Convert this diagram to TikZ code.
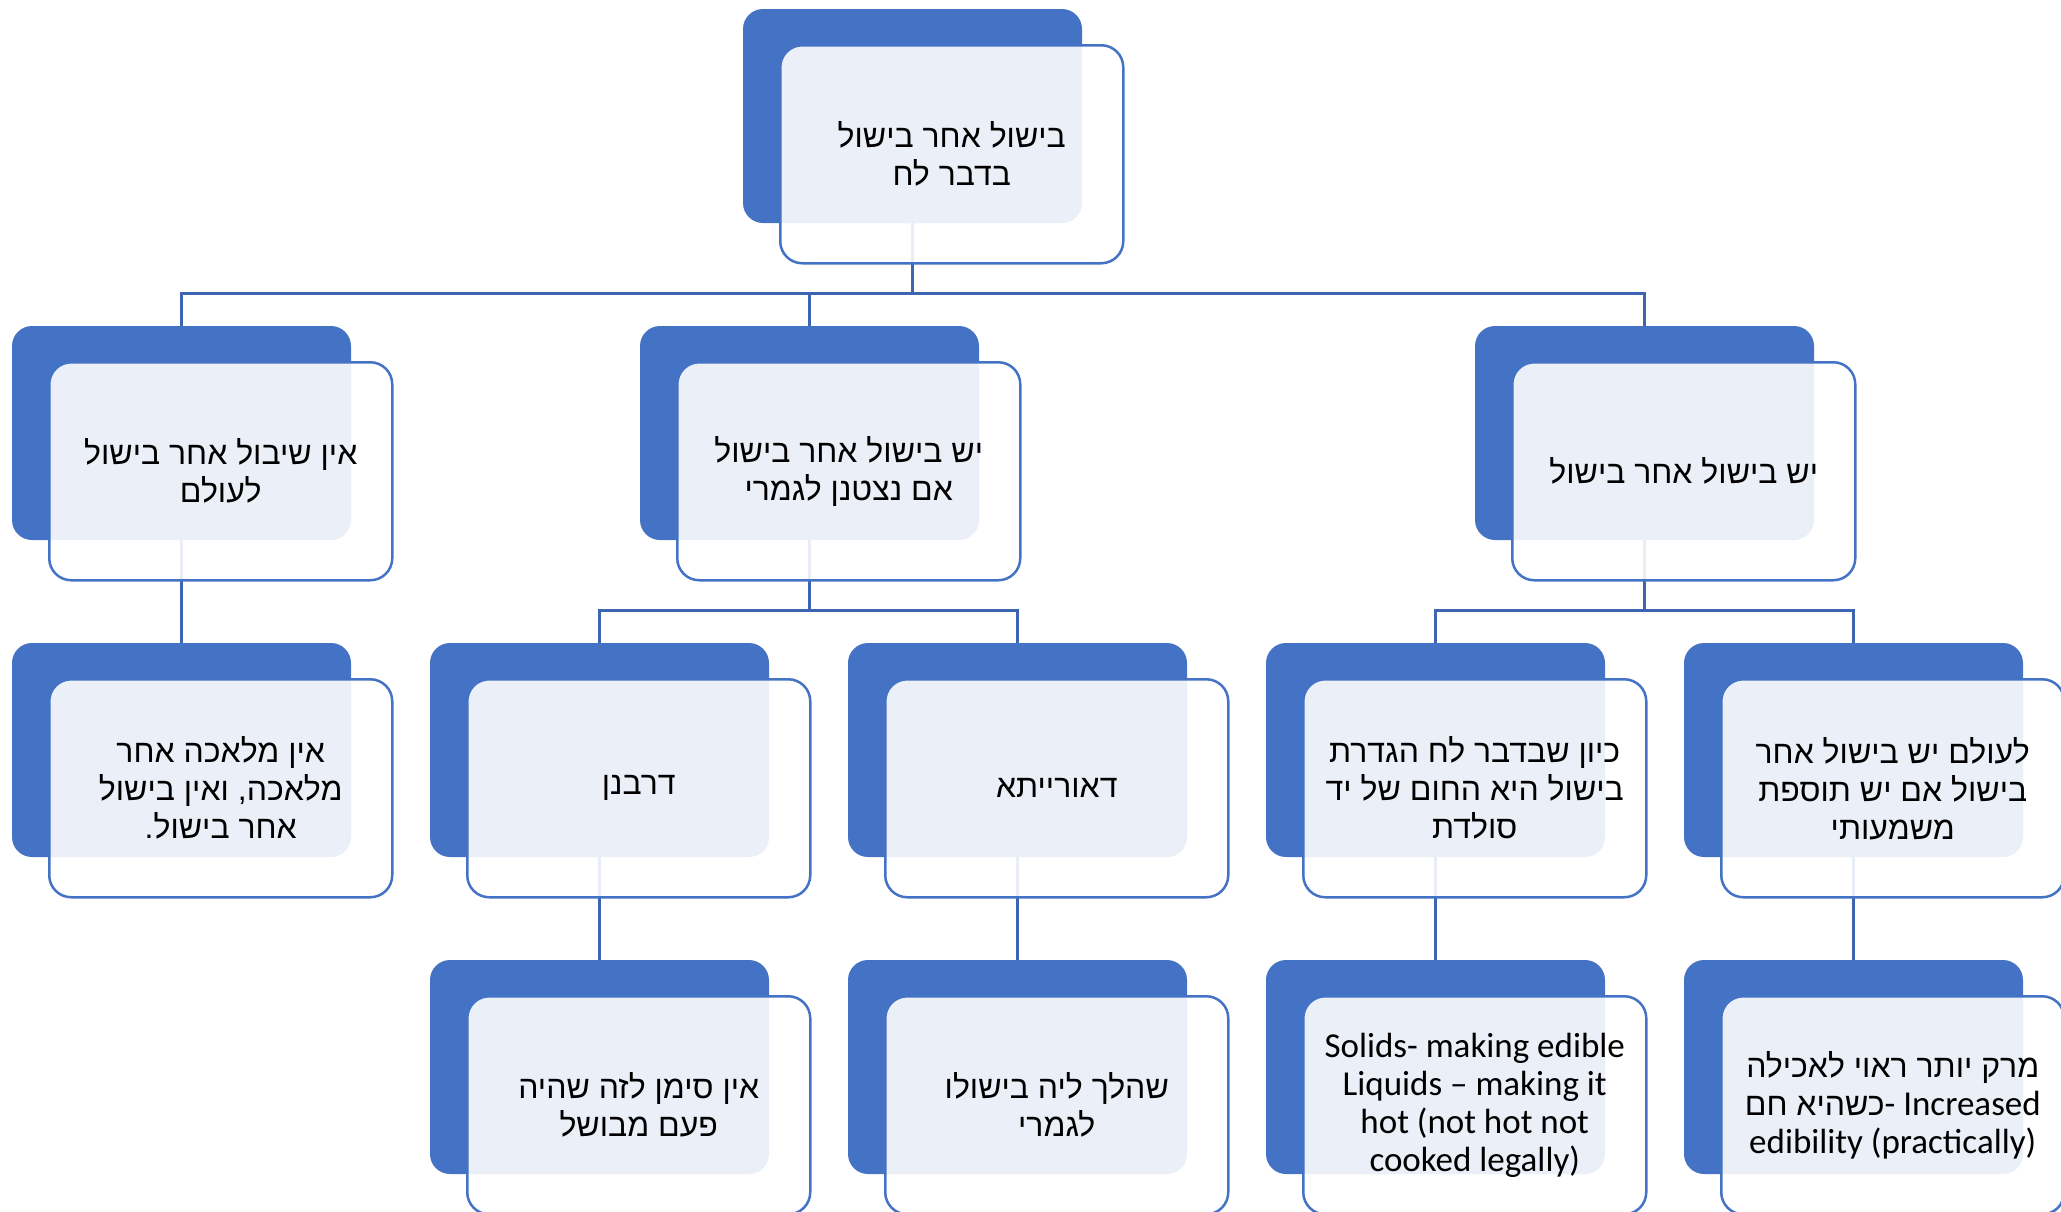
\documentclass[tikz,border=0pt]{standalone}
\usepackage{fontspec}
\setmainfont{Liberation Sans}
\newfontfamily\heb[Script=Hebrew]{Liberation Sans}
\newfontfamily\eng{Carlito}
\TeXXeTstate=1
\newcommand\HE[1]{{\heb\fontsize{16}{19}\selectfont\beginR #1\endR}}
\definecolor{sablue}{HTML}{4472C4}
\definecolor{connblue}{HTML}{3D65B1}
\begin{document}
\begin{tikzpicture}[x=0.5pt,y=-0.5pt,
  backbox/.style={rectangle, rounded corners=10pt, fill=sablue, anchor=north west,
    minimum width=169.5pt, minimum height=107pt, inner sep=0pt, outer sep=0pt},
  frontbox/.style={rectangle, rounded corners=11pt, draw=sablue, line width=1.25pt,
    fill=white, fill opacity=0.89, text opacity=1, anchor=north west,
    minimum width=171.5pt, minimum height=109pt, inner sep=0pt, align=center,
    font=\eng\fontsize{17.5}{19}\selectfont, text=black},
  conn/.style={draw=connblue, line width=1.5pt}]
\useasboundingbox (0,0) rectangle (2061,1211);
\clip (0,0) rectangle (2061,1211);
% back boxes
\node[backbox] (b0) at (743,9) {};
\node[backbox] (b1) at (12,326) {};
\node[backbox] (b2) at (640,326) {};
\node[backbox] (b3) at (1475,326) {};
\node[backbox] (c1) at (12,643) {};
\node[backbox] (c2) at (430,643) {};
\node[backbox] (c3) at (848,643) {};
\node[backbox] (c4) at (1266,643) {};
\node[backbox] (c5) at (1684,643) {};
\node[backbox] (d2) at (430,960) {};
\node[backbox] (d3) at (848,960) {};
\node[backbox] (d4) at (1266,960) {};
\node[backbox] (d5) at (1684,960) {};
% connectors
\coordinate (h1) at (912.5,293);
\coordinate (h2) at (809.5,610);
\coordinate (h3) at (1644.5,610);
\draw[conn] (b0.south) -- (h1);
\draw[conn] (b1.north) |- (h1);
\draw[conn] (b2.north) |- (h1);
\draw[conn] (b3.north) |- (h1);
\draw[conn] (b1.south) -- (c1.north);
\draw[conn] (b2.south) -- (h2);
\draw[conn] (c2.north) |- (h2);
\draw[conn] (c3.north) |- (h2);
\draw[conn] (b3.south) -- (h3);
\draw[conn] (c4.north) |- (h3);
\draw[conn] (c5.north) |- (h3);
\draw[conn] (c2.south) -- (d2.north);
\draw[conn] (c3.south) -- (d3.north);
\draw[conn] (c4.south) -- (d4.north);
\draw[conn] (c5.south) -- (d5.north);
% front boxes
\node[frontbox] (f0) at (779,44) {\HE{בישול אחר בישול}\\\HE{בדבר לח}};
\node[frontbox] (g1) at (48,361) {\HE{אין שיבול אחר בישול}\\\HE{לעולם}};
\node[frontbox] (g2) at (676,361) {\HE{יש בישול אחר בישול}\\\HE{אם נצטנן לגמרי}};
\node[frontbox] (g3) at (1511,361) {\HE{יש בישול אחר בישול}};
\node[frontbox] (k1) at (48,678) {\HE{אין מלאכה אחר}\\\HE{מלאכה, ואין בישול}\\\HE{אחר בישול.}};
\node[frontbox] (k2) at (466,678) {\HE{דרבנן}};
\node[frontbox] (k3) at (884,678) {\HE{דאורייתא}};
\node[frontbox] (k4) at (1302,678) {\HE{כיון שבדבר לח הגדרת}\\\HE{בישול היא החום של יד}\\\HE{סולדת}};
\node[frontbox] (k5) at (1720,678) {\HE{לעולם יש בישול אחר}\\\HE{בישול אם יש תוספת}\\\HE{משמעותי}};
\node[frontbox] (m2) at (466,995) {\HE{אין סימן לזה שהיה}\\\HE{פעם מבושל}};
\node[frontbox] (m3) at (884,995) {\HE{שהלך ליה בישולו}\\\HE{לגמרי}};
\node[frontbox] (m4) at (1302,995) {Solids- making edible\\Liquids – making it\\hot (not hot not\\cooked legally)};
\node[frontbox] (m5) at (1720,995) {\HE{מרק יותר ראוי לאכילה}\\\HE{כשהיא חם}- Increased\\edibility (practically)};
\end{tikzpicture}
\end{document}
